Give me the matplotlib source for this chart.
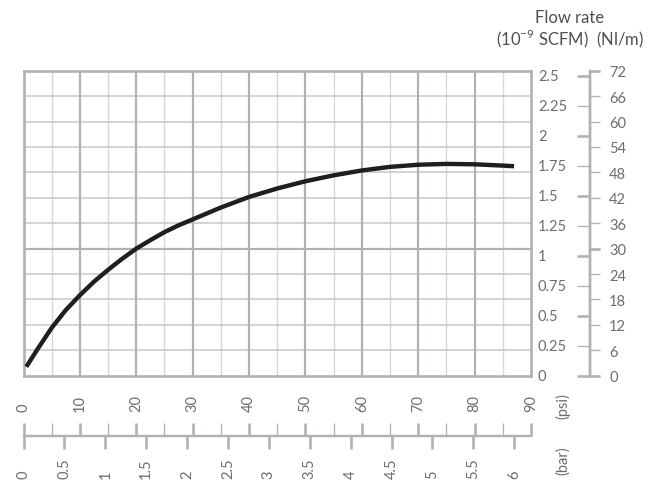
import numpy as np
import matplotlib
matplotlib.use("Agg")
import matplotlib.pyplot as plt
from matplotlib import transforms

plt.rcParams['font.family'] = ['Lato', 'DejaVu Sans']

# ---------------- data ----------------
psi = [0.5, 2.5, 5, 7.5, 10, 12.5, 15, 17.5, 20, 22.5, 25, 27.5, 30, 35, 40, 45,
       50, 55, 60, 65, 70, 75, 80, 85, 87]
flow_nlm = [2.1, 6.3, 11.3, 15.5, 19.0, 22.2, 25.0, 27.6, 30.0, 32.0, 33.9, 35.5,
            36.9, 39.7, 42.2, 44.2, 45.9, 47.3, 48.45, 49.3, 49.8, 50.0, 49.9,
            49.6, 49.45]

psi_major = [0, 10, 20, 30, 40, 50, 60, 70, 80, 90]
psi_minor = [5, 15, 25, 35, 45, 55, 65, 75, 85]
psi_labels = ['0', '10', '20', '30', '40', '50', '60', '70', '80', '90']
bar_ticks = [0, 0.5, 1, 1.5, 2, 2.5, 3, 3.5, 4, 4.5, 5, 5.5, 6]
bar_labels = ['0', '0.5', '1', '1.5', '2', '2.5', '3', '3.5', '4', '4.5', '5', '5.5', '6']
nlm_ticks = [0, 6, 12, 18, 24, 30, 36, 42, 48, 54, 60, 66, 72]
nlm_labels = ['0', '6', '12', '18', '24', '30', '36', '42', '48', '54', '60', '66', '72']
nlm_thick = [0, 30, 72]
scfm_major = [0, 0.5, 1, 1.5, 2, 2.5]
scfm_minor = [0.25, 0.75, 1.25, 1.75, 2.25]
scfm_all = [0, 0.25, 0.5, 0.75, 1, 1.25, 1.5, 1.75, 2, 2.25, 2.5]
scfm_labels = ['0', '0.25', '0.5', '0.75', '1', '1.25', '1.5', '1.75', '2', '2.25', '2.5']

SCFM_TO_NLM = 28.3168
PSI_PER_BAR = 14.5038

# ---------------- style ----------------
W, H = 663, 481
GRID_MAJ = '#aeb2b4'
GRID_MIN = '#d4d6d7'
GRID_H = '#c4c7c9'
TXT = '#6b6d6f'
PX = 72 / 100.0  # points per pixel

fig = plt.figure(figsize=(W / 100, H / 100), dpi=100)

L, R, T, B = 23.5, 531, 71.7, 376.7
ax = fig.add_axes([L / W, 1 - B / H, (R - L) / W, (B - T) / H])
ax.set_xlim(0, 90)
ax.set_ylim(0, 72)
ax.set_xticks([])
ax.set_yticks([])
for x in psi_minor:
    ax.axvline(x, color=GRID_MIN, lw=1.3 * PX, zorder=1)
for x in psi_major[1:-1]:
    ax.axvline(x, color=GRID_MAJ, lw=2.2 * PX, zorder=1.2)
for y in nlm_ticks[1:-1]:
    if y in nlm_thick:
        ax.axhline(y, color=GRID_MAJ, lw=2.2 * PX, zorder=1.1)
    else:
        ax.axhline(y, color=GRID_H, lw=1.5 * PX, zorder=1.1)
for s in ax.spines.values():
    s.set_color(GRID_MAJ)
    s.set_linewidth(2.6 * PX)

ax.plot(psi, flow_nlm, color='#1f1f1f', lw=4.4 * PX, solid_capstyle='butt',
        solid_joinstyle='round', zorder=3)

# ---------------- right scales ----------------
SX = 590
axs = fig.add_axes([SX / W, 1 - B / H, 0.00001, (B - T) / H])
axs.set_ylim(0, 72)
axs.set_xticks([])
for k in ['top', 'bottom', 'right']:
    axs.spines[k].set_visible(False)
axs.spines['left'].set_color(GRID_MAJ)
axs.spines['left'].set_linewidth(2.4 * PX)
axs.patch.set_visible(False)
axs.set_yticks([v * SCFM_TO_NLM for v in scfm_major])
axs.set_yticks([v * SCFM_TO_NLM for v in scfm_minor], minor=True)
axs.tick_params(axis='y', which='major', direction='out', length=13 * PX,
                width=2.6 * PX, color=GRID_MAJ, labelleft=False)
axs.tick_params(axis='y', which='minor', direction='out', length=13 * PX,
                width=1.3 * PX, color=GRID_MAJ, labelleft=False)
tr_s = transforms.blended_transform_factory(fig.transFigure, axs.transData)
for v, lab in zip(scfm_all, scfm_labels):
    fig.text(538 / W, v * SCFM_TO_NLM, lab, transform=tr_s, ha='left', va='center',
             fontsize=10.5, color=TXT)

sec = axs.secondary_yaxis('right')
sec.spines['right'].set_color(GRID_MAJ)
sec.spines['right'].set_linewidth(2.4 * PX)
sec.set_yticks(nlm_ticks, labels=nlm_labels)
sec.set_yticks(nlm_thick, minor=True)
sec.yaxis.remove_overlapping_locs = False
sec.tick_params(axis='y', which='major', direction='out', length=10 * PX,
                width=1.3 * PX, color=GRID_MAJ, pad=9 * PX, labelsize=10.5,
                labelcolor=TXT)
sec.tick_params(axis='y', which='minor', direction='out', length=10 * PX,
                width=2.6 * PX, color=GRID_MAJ, labelright=False)

# ---------------- bottom scales ----------------
BY = 437
axb = fig.add_axes([L / W, 1 - BY / H, (R - L) / W, 0.00001])
axb.set_xlim(0, 90)
axb.set_yticks([])
for k in ['top', 'left', 'right']:
    axb.spines[k].set_visible(False)
axb.spines['bottom'].set_color(GRID_MAJ)
axb.spines['bottom'].set_linewidth(2.4 * PX)
axb.patch.set_visible(False)
axb.set_xticks(psi_major, labels=psi_labels)
axb.set_xticks(psi_minor, minor=True)
axb.tick_params(axis='x', which='both', top=True, bottom=False, labeltop=True,
                labelbottom=False, direction='out', color=GRID_MAJ)
axb.tick_params(axis='x', which='major', length=13 * PX, width=2.6 * PX,
                labelrotation=90, pad=12 * PX, labelsize=10.5, labelcolor=TXT)
axb.tick_params(axis='x', which='minor', length=13 * PX, width=1.3 * PX)

secx = axb.secondary_xaxis('bottom', functions=(lambda p: np.asarray(p) / PSI_PER_BAR,
                                                 lambda b: np.asarray(b) * PSI_PER_BAR))
secx.spines['bottom'].set_visible(False)
secx.set_xticks(bar_ticks, labels=bar_labels)
secx.tick_params(axis='x', direction='out', length=13 * PX, width=2.6 * PX,
                 color=GRID_MAJ, labelrotation=90, pad=29 * PX, labelsize=10.5,
                 labelcolor=TXT)
for t in secx.get_xticklabels():
    t.set_va('bottom')

fig.text(563 / W, 1 - 406 / H, '(psi)', rotation=90, ha='center', va='center',
         fontsize=10.5, color=TXT)
fig.text(563 / W, 1 - 461 / H, '(bar)', rotation=90, ha='center', va='center',
         fontsize=10.5, color=TXT)

# ---------------- header ----------------
fig.text(570 / W, 1 - 23 / H, 'Flow rate', ha='center', va='baseline',
         fontsize=12, color='#505050')
fig.text(570 / W, 1 - 45 / H, r'(10$^{\mathregular{-9}}$ SCFM)  (Nl/m)', ha='center',
         va='baseline', fontsize=12, color='#505050')

fig.savefig('out.png', dpi=100)
